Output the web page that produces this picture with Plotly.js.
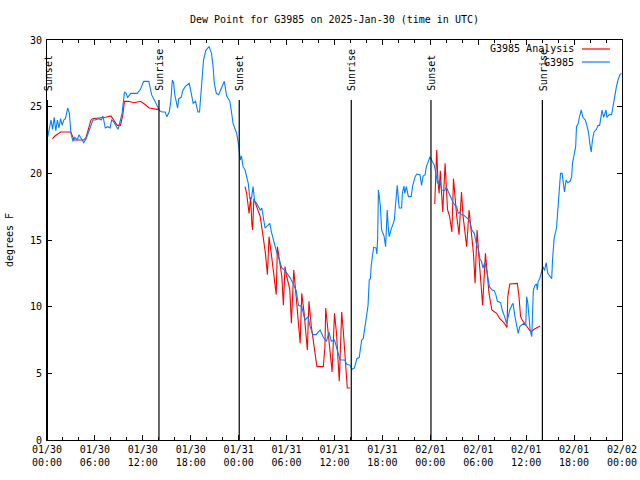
<!DOCTYPE html>
<html>
<head>
<meta charset="utf-8">
<script src="https://cdn.plot.ly/plotly-3.0.1.min.js"></script>
<style>html,body{margin:0;padding:0;background:#fff}#chart{width:640px;height:480px}</style>
</head>
<body>
<div id="chart"></div>
<script>
// Hours since 2025-01-30 00:00 UTC
var obsHours = [0.1,0.3,0.5,0.7,0.9,1.1,1.3,1.5,1.7,1.9,2.1,2.3,2.6,2.8,3.0,3.25,3.5,3.8,4.0,4.3,4.6,4.9,5.2,5.5,5.75,6.0,6.5,6.8,7.0,7.3,7.6,7.9,8.1,8.3,8.6,8.9,9.2,9.4,9.7,9.9,10.1,10.5,10.9,11.3,11.7,12.1,12.5,12.75,13.1,13.5,13.9,14.1,14.4,14.8,15.0,15.3,15.5,15.7,15.85,16.0,16.35,16.5,16.8,17.0,17.3,17.8,18.0,18.3,18.6,18.9,19.1,19.3,19.6,19.9,20.3,20.6,20.8,20.95,21.2,21.5,21.8,22.2,22.5,22.9,23.1,23.3,23.5,23.75,24.0,24.2,24.35,24.55,24.8,25.2,25.4,25.6,25.8,26.0,26.2,26.7,26.9,27.1,27.3,27.5,27.9,28.1,28.55,28.75,29.1,29.4,29.8,30.2,30.4,30.8,31.2,31.5,31.9,32.3,32.7,32.9,33.3,33.7,34.2,34.6,35.0,35.3,35.6,36.0,36.35,36.7,37.3,37.5,37.95,38.2,38.5,38.8,39.1,39.3,39.4,39.6,39.8,40.0,40.2,40.35,40.5,40.6,40.75,40.9,41.2,41.3,41.4,41.5,41.6,41.75,41.9,42.2,42.4,42.5,42.6,42.75,42.85,43.1,43.5,43.6,43.85,44.1,44.4,44.5,44.7,44.8,45.0,45.25,45.6,45.8,46.1,46.3,46.7,46.9,47.1,47.35,47.5,47.75,47.96,48.15,48.5,48.7,48.9,49.2,49.4,49.8,50.0,50.2,50.4,50.6,50.9,51.1,51.3,51.5,51.7,51.9,52.2,52.5,52.9,53.2,53.5,53.8,54.0,54.2,54.4,54.6,54.8,55.0,55.2,55.4,55.75,56.0,56.2,56.4,56.8,57.0,57.3,57.55,57.75,57.95,58.2,58.35,58.6,58.8,59.0,59.2,59.45,59.7,59.95,60.06,60.2,60.4,60.5,60.7,60.9,61.1,61.3,61.4,61.5,61.7,61.9,62.1,62.3,62.5,62.7,62.9,63.2,63.3,63.5,63.8,64.0,64.1,64.3,64.5,64.6,64.8,65.0,65.2,65.5,65.7,65.8,66.0,66.2,66.3,66.5,66.7,66.9,67.1,67.4,67.6,67.8,68.0,68.15,68.3,68.5,68.8,69.0,69.2,69.4,69.5,69.7,69.9,70.0,70.1,70.4,70.7,70.9,71.1,71.3,71.5,71.75,71.95];
var obsDew = [22.75,23.5,24.0,23.3,24.2,23.2,24.0,23.4,24.1,23.6,24.0,24.1,24.9,24.5,23.0,22.4,22.7,22.5,22.9,22.6,22.3,22.6,23.1,23.6,24.0,24.0,24.1,24.0,24.3,23.4,23.5,23.4,24.0,23.9,23.6,23.3,24.0,24.5,26.1,26.0,25.7,26.0,26.0,26.0,26.3,26.9,26.9,26.9,25.9,25.4,25.0,24.7,24.6,24.6,24.25,24.6,25.4,27.0,26.8,25.9,24.9,25.6,25.7,26.2,26.5,26.75,26.2,25.25,25.4,24.6,24.6,26.25,28.5,29.25,29.5,29.0,28.0,26.75,26.0,25.9,26.4,26.9,25.8,25.4,24.6,23.75,23.4,23.0,22.1,21.0,21.3,20.5,20.25,19.25,18.1,18.1,19.0,17.9,17.8,17.25,17.4,16.5,15.9,16.0,16.25,15.6,14.5,14.1,13.5,12.9,12.7,12.4,12.2,11.75,11.2,10.1,10.0,9.0,9.25,8.6,7.9,7.9,8.25,7.7,7.4,8.1,7.4,7.5,6.75,6.0,6.0,5.7,5.6,5.3,5.4,6.1,6.2,6.9,7.5,7.6,8.5,9.25,10.1,12.0,12.1,13.1,13.75,14.45,14.4,13.95,15.1,18.75,18.3,17.5,15.75,15.3,14.5,16.0,17.25,15.8,15.25,15.8,16.5,17.3,19.1,17.4,17.4,18.5,19.05,18.5,19.0,18.25,18.25,19.1,19.75,19.95,19.9,19.1,19.8,19.9,20.5,20.9,21.25,21.0,20.6,20.0,19.25,19.5,18.75,18.7,19.0,18.7,18.4,18.2,17.75,17.6,17.5,17.0,17.1,16.9,16.85,16.7,16.5,15.75,15.5,14.6,14.4,13.6,13.4,12.9,13.3,12.9,12.0,11.5,11.25,11.2,10.9,10.4,10.3,9.75,9.25,8.75,9.25,9.75,10.1,10.25,9.25,8.5,8.0,8.5,8.6,8.75,8.6,10.75,10.3,8.75,8.25,7.75,11.25,11.6,11.7,11.25,11.9,12.1,12.6,13.0,12.7,13.3,12.5,12.3,12.1,13.5,15.1,15.9,17.75,18.75,20.0,20.0,19.4,18.6,19.5,19.3,19.4,19.75,20.75,21.5,22.0,23.5,23.7,24.3,24.75,24.2,24.0,23.6,23.1,22.1,21.6,22.5,23.1,23.3,23.6,23.6,24.25,24.75,24.2,24.5,24.75,24.2,24.4,24.4,25.1,26.1,26.5,27.0,27.4,27.5];

var anaHours = [0.67,1.0,1.7,2.97,3.4,4.6,4.9,5.5,5.7,7.35,8.0,8.4,8.8,9.2,9.5,9.7,10.2,10.9,11.7,12.2,12.8,13.8,14.0,
  19.0,
  24.8,25.0,25.3,25.5,25.65,25.75,25.9,26.2,26.7,27.1,27.35,27.6,27.8,28.1,28.3,28.5,28.7,28.85,29.1,29.4,29.6,29.8,30.0,30.4,30.6,30.9,31.2,31.7,31.9,32.2,32.6,32.8,33.1,33.4,33.8,34.6,34.8,34.9,35.2,35.7,36.0,36.25,36.6,36.9,37.1,37.4,37.6,37.95,
  43.0,
  48.55,48.8,48.95,49.1,49.25,49.4,49.55,49.7,49.85,50.0,50.15,50.4,50.7,50.9,51.1,51.3,51.6,51.9,52.1,52.55,52.85,53.1,53.4,53.6,53.85,54.1,54.55,54.9,55.1,55.35,55.7,56.3,56.7,57.2,57.6,57.7,57.95,58.9,59.1,59.3,59.5,59.9,60.2,60.6,61.0,61.4,61.75];
var anaDew = [22.6,22.8,23.1,23.1,22.5,22.5,22.7,24.0,24.1,24.2,24.3,23.9,23.6,23.6,24.4,25.4,25.4,25.3,25.4,25.2,24.9,24.8,24.8,
  null,
  19.0,18.5,17.0,18.2,16.2,15.75,18.1,17.6,16.75,15.1,14.0,12.4,15.25,13.9,13.0,11.75,10.9,14.5,13.5,12.3,10.1,13.0,12.3,11.3,8.75,12.75,10.75,7.25,11.0,9.5,6.75,10.4,8.5,7.2,5.5,5.5,7.0,9.9,8.0,5.1,9.5,8.0,4.4,9.6,8.2,5.2,3.9,3.9,
  null,
  17.7,21.75,19.5,18.5,20.2,18.5,17.1,18.9,20.75,19.0,17.3,16.8,15.6,19.6,18.1,16.8,15.4,18.6,16.8,14.5,17.25,15.6,14.0,11.75,15.75,13.6,10.1,14.0,12.8,11.0,9.75,9.5,9.1,8.8,8.45,10.75,11.7,11.75,10.75,9.25,9.0,8.7,8.4,8.1,8.3,8.45,8.55];

var sunHours = [0.05,14.02,24.07,38.1,48.08,62.03];
var sunLabels = ['Sunset','Sunrise','Sunset','Sunrise','Sunset','Sunrise'];

var tickHours = [0,6,12,18,24,30,36,42,48,54,60,66,72];
var tickLabels = ['01/30<br>00:00','01/30<br>06:00','01/30<br>12:00','01/30<br>18:00','01/31<br>00:00','01/31<br>06:00','01/31<br>12:00','01/31<br>18:00','02/01<br>00:00','02/01<br>06:00','02/01<br>12:00','02/01<br>18:00','02/02<br>00:00'];
var seriesNames = ['G3985 Analysis','G3985'];
var seriesColors = ['#ff0000','#0080ff'];

var FONT = 'DejaVu Sans Mono, Liberation Mono, monospace';

var traces = [
  {x: anaHours, y: anaDew, type: 'scatter', mode: 'lines', name: seriesNames[0],
   line: {color: seriesColors[0], width: 1.1, shape: 'linear'}, connectgaps: false},
  {x: obsHours, y: obsDew, type: 'scatter', mode: 'lines', name: seriesNames[1],
   line: {color: seriesColors[1], width: 1.1}}
];

var shapes = [];
var annotations = [];
sunHours.forEach(function(h, i) {
  shapes.push({type: 'line', xref: 'x', yref: 'paper', x0: h, x1: h, y0: 0, y1: 0.85,
    line: {color: '#000', width: 1.2}});
  annotations.push({xref: 'x', yref: 'paper', x: h, y: 0.868, text: sunLabels[i],
    textangle: -90, showarrow: false, xanchor: 'center', yanchor: 'bottom', xshift: 1,
    font: {family: FONT, size: 10, color: '#000'}});
});
// custom legend (text left, sample right)
var legY = [0.9775, 0.945];
seriesNames.forEach(function(n, i) {
  annotations.push({xref: 'paper', yref: 'paper', x: 0.9195, y: legY[i], text: n,
    showarrow: false, xanchor: 'right', yanchor: 'middle',
    font: {family: FONT, size: 10, color: '#000'}});
  shapes.push({type: 'line', xref: 'paper', yref: 'paper', x0: 0.9304, x1: 0.979,
    y0: legY[i], y1: legY[i], line: {color: seriesColors[i], width: 1.2}});
});

var layout = {
  width: 640, height: 480,
  margin: {l: 47, r: 18, t: 40, b: 40},
  paper_bgcolor: '#fff', plot_bgcolor: '#fff',
  showlegend: false,
  font: {family: FONT, size: 10, color: '#000'},
  title: {text: 'Dew Point for G3985 on 2025-Jan-30 (time in UTC)', xref: 'paper', x: 0.5,
    y: 0.96, yanchor: 'middle', font: {family: FONT, size: 10, color: '#000'}},
  xaxis: {range: [0, 72], tickmode: 'array', tickvals: tickHours, ticktext: tickLabels,
    ticks: 'inside', ticklen: 5, tickcolor: '#000', showgrid: false, zeroline: false,
    showline: true, linecolor: '#000', linewidth: 1, mirror: 'ticks',
    minor: {tickmode: 'linear', tick0: 0, dtick: 2, ticks: 'inside', ticklen: 3, tickcolor: '#000', showgrid: false},
    tickfont: {family: FONT, size: 10, color: '#000'}, fixedrange: true},
  yaxis: {range: [0, 30], dtick: 5, tick0: 0, ticks: 'inside', ticklen: 5, tickcolor: '#000',
    showgrid: false, zeroline: false, showline: true, linecolor: '#000', linewidth: 1,
    mirror: 'ticks', tickfont: {family: FONT, size: 10, color: '#000'},
    ticklabelstandoff: 2,
    title: {text: 'degrees F', standoff: 14, font: {family: FONT, size: 10, color: '#000'}},
    fixedrange: true},
  shapes: shapes,
  annotations: annotations
};

Plotly.newPlot('chart', traces, layout, {displayModeBar: false, staticPlot: true});
</script>
</body>
</html>
